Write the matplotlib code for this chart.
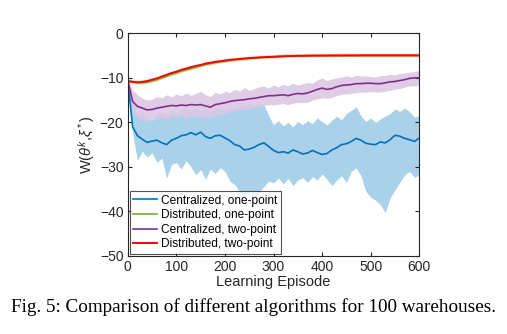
import matplotlib
matplotlib.use("Agg")
import matplotlib.pyplot as plt
import numpy as np

plt.rcParams['font.family'] = ['Liberation Sans', 'DejaVu Sans']
plt.rcParams['mathtext.fontset'] = 'custom'
plt.rcParams['mathtext.rm'] = 'Liberation Sans'
plt.rcParams['mathtext.it'] = 'Liberation Sans:italic'

episodes = list(range(0, 601, 10))

blue_mean = [-10.5, -21.0, -23.0, -23.8, -24.5, -24.2, -24.0, -24.6, -25.0, -24.0,
             -23.6, -23.0, -22.8, -22.3, -22.8, -22.2, -23.2, -23.6, -23.0, -22.9,
             -23.5, -24.1, -25.0, -25.3, -26.2, -26.0, -25.6, -25.0, -24.6, -25.4,
             -26.3, -26.8, -26.6, -26.9, -26.2, -26.6, -27.1, -26.9, -26.3, -26.8,
             -27.2, -27.0, -26.2, -25.7, -25.0, -24.8, -24.3, -23.6, -24.0, -24.7,
             -24.9, -25.0, -24.4, -24.6, -23.9, -22.9, -23.1, -23.6, -23.9, -24.3,
             -23.5]
blue_upper = [-10.5, -15.5, -18.2, -17.5, -18.8, -19.5, -18.0, -17.6, -18.5, -17.2,
              -18.0, -17.0, -16.8, -17.5, -16.5, -17.3, -16.6, -17.8, -17.0, -16.4,
              -17.2, -16.6, -16.9, -15.8, -16.5, -15.6, -16.2, -15.4, -16.0, -18.5,
              -20.5, -19.6, -20.8, -20.0, -21.0, -19.8, -20.5, -19.6, -20.3, -19.0,
              -19.8, -20.6, -19.5, -18.6, -19.4, -18.0, -17.3, -16.5, -18.5, -19.8,
              -19.0, -20.0, -19.2, -18.6, -18.0, -17.0, -17.5, -16.8, -17.6, -18.8,
              -18.5]
blue_lower = [-10.5, -22.5, -28.5, -26.5, -27.8, -26.8, -29.0, -28.0, -32.5, -29.5,
              -29.0, -30.5, -28.6, -30.0, -31.8, -30.6, -32.8, -30.5, -31.5, -30.2,
              -31.0, -33.2, -34.0, -35.5, -36.8, -35.2, -37.2, -35.6, -34.5, -33.2,
              -33.6, -32.5, -33.8, -32.6, -34.2, -33.0, -32.4, -33.5, -32.2, -33.0,
              -31.6, -32.8, -34.2, -33.0, -32.0, -33.5, -31.0, -30.2, -32.0, -35.5,
              -36.8, -37.5, -38.5, -40.3, -37.0, -35.2, -33.5, -31.8, -31.0, -32.4,
              -31.8]

purple_mean = [-10.5, -15.3, -16.4, -16.8, -17.2, -17.1, -16.8, -16.6, -16.4, -16.2,
               -16.3, -16.1, -16.2, -16.0, -16.1, -16.0, -16.3, -16.6, -16.0, -15.8,
               -15.6, -15.3, -15.1, -15.0, -14.9, -14.7, -14.6, -14.4, -14.2, -14.0,
               -14.0, -13.9, -13.8, -14.0, -13.7, -13.5, -13.6, -13.4, -13.0, -12.6,
               -12.3, -12.6, -12.4, -12.0, -11.7, -11.6, -11.5, -11.3, -11.3, -11.2,
               -11.2, -11.3, -11.3, -11.1, -10.9, -10.8, -10.6, -10.4, -10.1, -10.0,
               -10.0]
purple_upper = [-10.5, -12.8, -13.8, -14.6, -15.0, -14.8, -14.2, -14.5, -13.8, -14.3,
                -13.6, -14.0, -13.4, -13.9, -13.5, -13.0, -13.8, -14.2, -13.2, -13.6,
                -13.0, -13.3, -12.6, -12.9, -12.2, -12.8, -12.4, -12.0, -11.8, -12.2,
                -11.6, -12.0, -11.4, -11.8, -11.2, -11.6, -11.3, -11.0, -11.2, -10.4,
                -10.0, -10.6, -10.2, -10.0, -9.8, -9.5, -9.8, -9.4, -9.6, -9.5,
                -9.7, -9.8, -9.5, -9.4, -9.2, -9.3, -9.0, -8.9, -8.7, -8.6,
                -8.3]
purple_lower = [-10.5, -17.8, -19.0, -19.4, -19.6, -19.3, -19.0, -18.8, -19.2, -18.6,
                -18.8, -18.5, -19.2, -18.4, -18.8, -18.6, -19.0, -18.8, -18.4, -18.1,
                -17.9, -17.6, -17.4, -17.2, -17.0, -16.9, -16.6, -16.5, -16.2, -16.0,
                -16.1, -15.9, -15.8, -16.0, -15.7, -15.5, -15.6, -15.5, -15.0, -14.7,
                -14.5, -14.6, -14.4, -14.0, -13.7, -13.6, -13.5, -13.3, -13.2, -13.2,
                -13.1, -13.2, -13.2, -13.0, -12.8, -12.5, -12.4, -12.1, -11.8, -11.8,
                -11.7]

green_mean = [-10.7, -10.9, -11.1, -11.1, -11.0, -10.7, -10.4, -10.0, -9.6, -9.2,
              -8.9, -8.5, -8.2, -7.9, -7.6, -7.3, -7.0, -6.8, -6.6, -6.4,
              -6.25, -6.1, -5.95, -5.85, -5.75, -5.65, -5.55, -5.45, -5.4, -5.35,
              -5.3, -5.22, -5.17, -5.12, -5.1, -5.06, -5.05, -5.02, -5.0, -5.0,
              -4.99, -4.98, -4.98, -4.97, -4.97, -4.96, -4.96, -4.96, -4.95, -4.95,
              -4.95, -4.95, -4.95, -4.95, -4.95, -4.95, -4.95, -4.95, -4.95, -4.95,
              -4.95]
red_mean = [-10.7, -10.9, -11.0, -10.9, -10.7, -10.4, -10.1, -9.7, -9.3, -8.9,
            -8.6, -8.2, -7.9, -7.6, -7.3, -7.1, -6.8, -6.6, -6.4, -6.25,
            -6.1, -5.95, -5.85, -5.75, -5.65, -5.55, -5.5, -5.4, -5.35, -5.3,
            -5.25, -5.2, -5.15, -5.1, -5.1, -5.05, -5.05, -5.02, -5.0, -5.0,
            -4.99, -4.98, -4.98, -4.97, -4.97, -4.96, -4.96, -4.96, -4.95, -4.95,
            -4.95, -4.95, -4.95, -4.95, -4.95, -4.95, -4.95, -4.95, -4.95, -4.95,
            -4.95]

labels = ["Centralized, one-point", "Distributed, one-point",
          "Centralized, two-point", "Distributed, two-point"]
xticks = [0, 100, 200, 300, 400, 500, 600]
yticks = [-50, -40, -30, -20, -10, 0]

fig = plt.figure(figsize=(5.07, 3.34), dpi=100)
ax = fig.add_axes([0.252, 0.234, 0.575, 0.666])

c_blue = '#0072BD'
c_green = '#77AC30'
c_purple = '#7E2F8E'
c_red = '#FF0000'

ax.fill_between(episodes, blue_lower, blue_upper, color='#aad1ea', lw=0)
ax.fill_between(episodes, purple_lower, purple_upper, color='#dcc8e4', lw=0, alpha=0.9)
l1, = ax.plot(episodes, blue_mean, color=c_blue, lw=1.2)
ax.plot(episodes, green_mean, color=c_green, lw=2.6, alpha=0.35)
l2, = ax.plot(episodes, green_mean, color=c_green, lw=1.2)
l3, = ax.plot(episodes, purple_mean, color=c_purple, lw=1.2)
l4, = ax.plot(episodes, red_mean, color=c_red, lw=1.4)

ax.set_xlim(0, 600)
ax.set_ylim(-50, 0)
ax.set_xticks(xticks)
ax.set_yticks(yticks)
ax.tick_params(direction='in', top=True, right=True, labelsize=10, length=3,
               colors='#262626', pad=3)
for s in ax.spines.values():
    s.set_color('#262626')
    s.set_linewidth(0.8)
ax.set_xlabel('Learning Episode', fontsize=10.5, color='#262626', labelpad=1)
ax.set_ylabel(r'W($\theta^k$,$\xi^*$)', fontsize=10.5, color='#262626', labelpad=2)

leg = ax.legend([l1, l2, l3, l4], labels, loc='lower left', fontsize=8.6,
                frameon=True, fancybox=False, edgecolor='#262626',
                handlelength=2.0, handletextpad=0.3, borderpad=0.3,
                labelspacing=0.22, borderaxespad=0.15)
leg.get_frame().set_linewidth(0.8)

fig.text(0.5, 0.081, 'Fig. 5: Comparison of different algorithms for 100 warehouses.',
         ha='center', va='center', fontsize=13.8, family='Liberation Serif')

fig.savefig('out.png', dpi=100)
